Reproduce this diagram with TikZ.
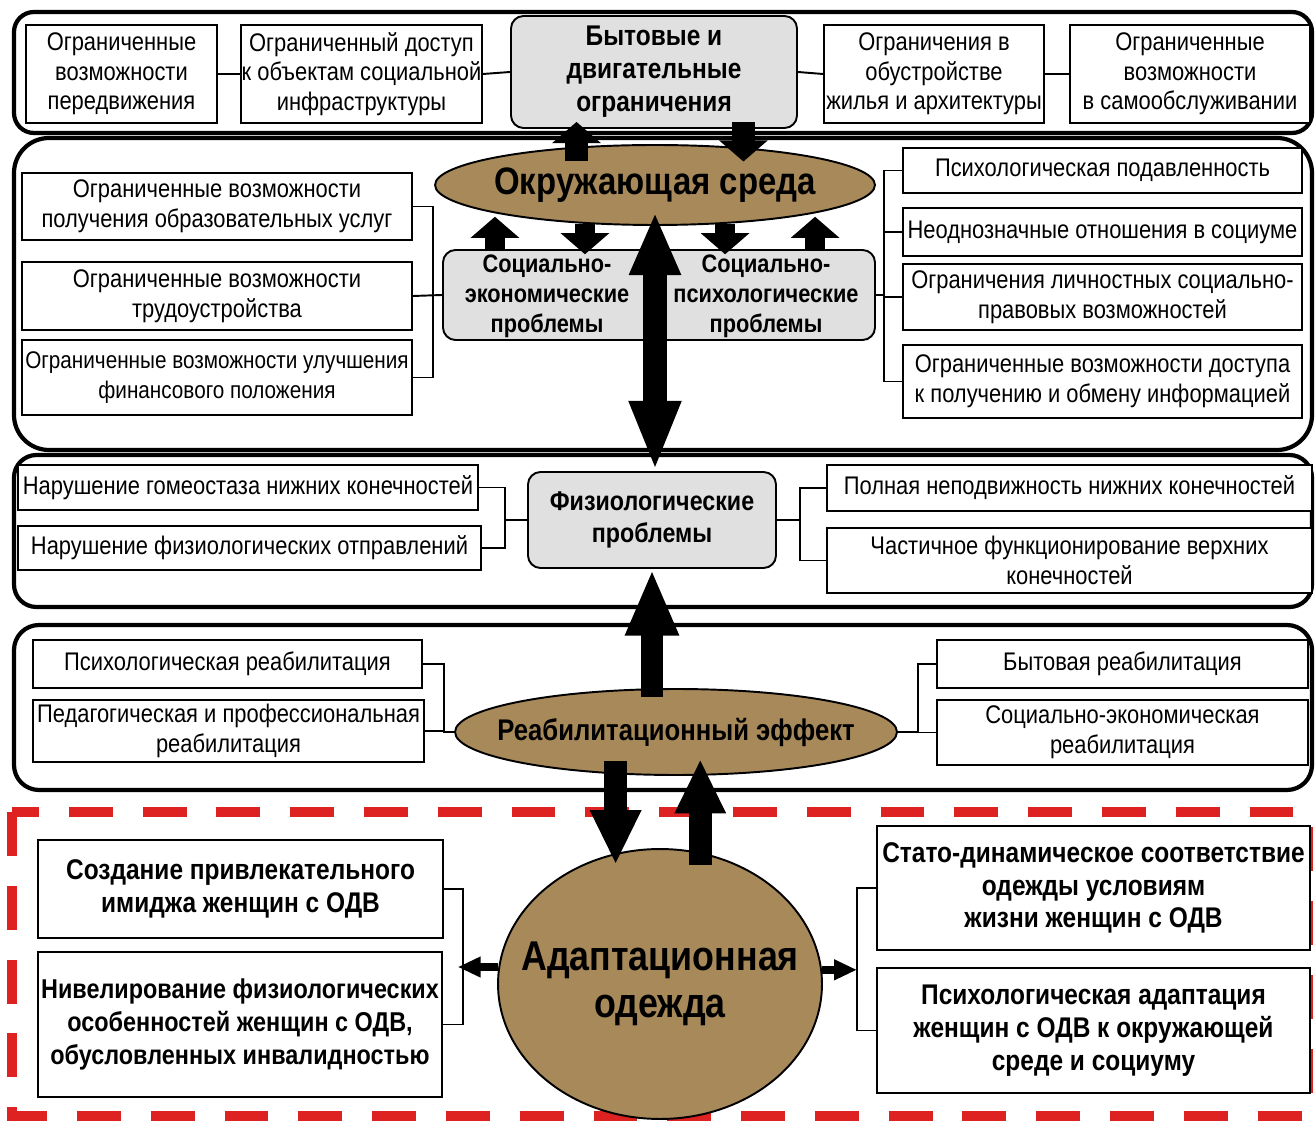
\documentclass[tikz,border=0pt]{standalone}
\usepackage{fontspec}
\setmainfont{Liberation Sans}[FakeStretch=0.86]
\usetikzlibrary{shapes.geometric,arrows.meta,calc}
\definecolor{brownfill}{RGB}{168,137,90}
\definecolor{grayfill}{RGB}{224,224,224}
\definecolor{dashred}{RGB}{222,34,34}
\newcommand{\fReg}{\fontsize{14.5}{16.8}\selectfont}
\newcommand{\fBox}{\bfseries\fontsize{16.2}{18.7}\selectfont}
\begin{document}
\begin{tikzpicture}[x=0.02cm,y=-0.02cm,
  bxat/.style n args={4}{at={({(#1+#3)/2},{(#2+#4)/2})}, minimum width={(#3-#1)*0.02cm}, minimum height={(#4-#2)*0.02cm}},
  band/.style={line width=2.4pt},
  box/.style={draw, line width=1.1pt, fill=white, inner sep=0pt, align=center, font=\fReg},
  bbox/.style={draw, line width=1.1pt, fill=white, inner sep=0pt, align=center, font=\fBox},
  gbox/.style={draw, line width=1.1pt, fill=grayfill, rounded corners=0.25cm, inner sep=0pt, align=center},
  ell/.style={draw, line width=1.1pt, fill=brownfill, ellipse, inner sep=0pt},
  conn/.style={line width=1.1pt},
  toparr/.style={line width=13pt, -{Triangle[length=12pt,width=27pt]}},
  midarr/.style={line width=11pt, -{Triangle[length=12pt,width=27pt]}},
  bigdbl/.style={line width=14pt, {Triangle[length=36pt,width=27pt]}-{Triangle[length=40pt,width=27pt]}},
  bigup/.style={line width=13pt, -{Triangle[length=38pt,width=28pt]}},
  pairarr/.style={line width=13pt, -{Triangle[length=31pt,width=27pt]}},
  harr/.style={line width=4.5pt, -{Triangle[length=13pt,width=11pt]}}
]
\useasboundingbox (0,0) rectangle (1315,1124);
\fill[white] (0,0) rectangle (1315,1124);

% bands
\draw[band, rounded corners=0.4cm] (14,12) rectangle (1312,133);
\draw[band, rounded corners=0.7cm] (14,138) rectangle (1312,450);
\draw[band, rounded corners=0.45cm] (14,455) rectangle (1312,607);
\draw[band, rounded corners=0.5cm] (14,625) rectangle (1312,790);
\draw[dashred, line width=5.5pt, dash pattern=on 25pt off 17pt] (12,812) rectangle (1308,1116);

% spine coordinates
\coordinate (sL) at (433,0);
\coordinate (sR) at (884,0);
\coordinate (sPL) at (505,0);
\coordinate (sPR) at (800,0);
\coordinate (sRL) at (444,0);
\coordinate (sRR) at (918,0);
\coordinate (sAL) at (463,0);
\coordinate (sAR) at (857,0);

% band 1
\node[box, bxat={26}{25}{217}{123}] (b1) {Ограниченные\\возможности\\передвижения};
\node[box, bxat={241}{25}{482}{123}] (b2) {Ограниченный доступ\\к объектам социальной\\инфраструктуры};
\node[gbox, bxat={511}{16}{797}{128}, font=\bfseries\fontsize{16.2}{18.7}\selectfont] (bit) {Бытовые и\\двигательные\\ограничения};
\node[box, bxat={824}{25}{1044}{123}] (b3) {Ограничения в\\обустройстве\\жилья и архитектуры};
\node[box, bxat={1070}{25}{1310}{123}] (b4) {Ограниченные\\возможности\\в самообслуживании};
\draw[conn] (b1.east) -- (b2.west);
\draw[conn] (b2.east) -- (bit.west);
\draw[conn] (bit.east) -- (b3.west);
\draw[conn] (b3.east) -- (b4.west);

% band 2
\node[ell, minimum width=8.8cm, minimum height=1.6cm] (env) at (655,185) {};
\node[font=\bfseries\fontsize{21.8}{26}\selectfont] (envT) at (env.center) {Окружающая среда};
\node[gbox, bxat={443}{250}{875}{340}] (socio) {};
\node[font=\bfseries\fontsize{14.4}{17}\selectfont, align=center] (socL) at (547,296) {Социально-\\экономические\\проблемы};
\node[font=\bfseries\fontsize{14.4}{17}\selectfont, align=center] (socR) at (766,296) {Социально-\\психологические\\проблемы};
\node[box, bxat={22}{173}{412}{240}] (L1) {Ограниченные возможности\\получения образовательных услуг};
\node[box, bxat={22}{262}{412}{330}] (L2) {Ограниченные возможности\\трудоустройства};
\node[box, bxat={22}{340}{412}{415}, font=\fontsize{13.7}{16.8}\selectfont] (L3) {Ограниченные возможности улучшения\\финансового положения};
\node[box, bxat={903}{148}{1302}{193}] (R1) {Психологическая подавленность};
\node[box, bxat={903}{208}{1302}{256}] (R2) {Неоднозначные отношения в социуме};
\node[box, bxat={903}{264}{1302}{330}] (R3) {Ограничения личностных социально-\\правовых возможностей};
\node[box, bxat={903}{345}{1302}{418}] (R4) {Ограниченные возможности доступа\\к получению и обмену информацией};
\draw[conn] (L1.east) -- (L1.east -| sL) -- (L3.east -| sL) -- (L3.east);
\draw[conn] (L2.east) -- (socio.west);
\draw[conn] (R1.west) -- (R1.west -| sR) -- (R4.west -| sR) -- (R4.west);
\draw[conn] (R2.west) -- (R2.west -| sR);
\draw[conn] (R3.west) -- (R3.west -| sR);
\draw[conn] (socio.east) -- (socio.east -| sR);

% band 3
\node[gbox, bxat={528}{472}{776}{568}, font=\bfseries\fontsize{15.4}{18}\selectfont] (phys) {Физиологические\\проблемы};
\node[box, bxat={18}{465}{478}{510}] (PL1) {Нарушение гомеостаза нижних конечностей};
\node[box, bxat={18}{526}{481}{570}] (PL2) {Нарушение физиологических отправлений};
\node[box, bxat={827}{465}{1312}{511}] (PR1) {Полная неподвижность нижних конечностей};
\node[box, bxat={827}{528}{1312}{593}] (PR2) {Частичное функционирование верхних\\конечностей};
\draw[conn] (PL1.east) -- (PL1.east -| sPL) -- (PL2.east -| sPL) -- (PL2.east);
\draw[conn] (phys.west) -- (phys.west -| sPL);
\draw[conn] (PR1.west) -- (PR1.west -| sPR) -- (PR2.west -| sPR) -- (PR2.west);
\draw[conn] (phys.east) -- (phys.east -| sPR);

% band 4
\node[ell, minimum width=8.84cm, minimum height=1.72cm] (reab) at (676,732) {};
\node[font=\bfseries\fontsize{17}{20}\selectfont] (reabT) at (reab.center) {Реабилитационный эффект};
\node[box, bxat={33}{640}{422}{688}] (RL1) {Психологическая реабилитация};
\node[box, bxat={33}{700}{424}{762}] (RL2) {Педагогическая и профессиональная\\реабилитация};
\node[box, bxat={937}{640}{1308}{688}] (RR1) {Бытовая реабилитация};
\node[box, bxat={937}{700}{1308}{765}] (RR2) {Социально-экономическая\\реабилитация};
\draw[conn] (RL1.east) -- (RL1.east -| sRL) -- (reab.west -| sRL) -- (reab.west);
\draw[conn] (RL2.east) -- (RL2.east -| sRL);
\draw[conn] (RR1.west) -- (RR1.west -| sRR) -- (reab.east -| sRR) -- (reab.east);
\draw[conn] (RR2.west) -- (RR2.west -| sRR);

% bottom
\node[ell, minimum width=6.48cm, minimum height=5.4cm] (adapt) at (660,984) {};
\node[font=\bfseries\fontsize{23.7}{26.6}\selectfont, align=center] (adaptT) at (adapt.center) {Адаптационная\\одежда};
\node[bbox, bxat={38}{840}{443}{938}] (AL1) {Создание привлекательного\\имиджа женщин с ОДВ};
\node[bbox, bxat={38}{952}{442}{1097}, font=\bfseries\fontsize{15.5}{18.7}\selectfont] (AL2) {Нивелирование физиологических\\особенностей женщин с ОДВ,\\обусловленных инвалидностью};
\node[bbox, bxat={877}{826}{1310}{950}] (AR1) {Стато-динамическое соответствие\\одежды условиям\\жизни женщин с ОДВ};
\node[bbox, bxat={877}{968}{1310}{1093}] (AR2) {Психологическая адаптация\\женщин с ОДВ к окружающей\\среде и социуму};
\draw[conn] (AL1.east) -- (AL1.east -| sAL) -- (AL2.east -| sAL) -- (AL2.east);
\draw[conn] (AR1.west) -- (AR1.west -| sAR) -- (AR2.west -| sAR) -- (AR2.west);
\draw[harr] (adapt.174) -- ([xshift=-3pt]adapt.174 -| sAL);
\draw[harr] (adapt.5) -- (adapt.5 -| sAR);

% big arrows
\draw[toparr] ([yshift=-8pt]env.154.4) -- ([yshift=4pt]env.154.4 |- bit.south);
\draw[toparr] ([yshift=4pt]env.23.5 |- bit.south) -- ([yshift=-8pt]env.23.5);
\draw[midarr] (env.190 |- socio.north) -- ([yshift=-2pt]env.190);
\draw[midarr] (env.209.6) -- ([yshift=-3pt]env.209.6 |- socio.north);
\draw[midarr] (env.331.9) -- ([yshift=-3pt]env.331.9 |- socio.north);
\draw[midarr] (env.350.5 |- socio.north) -- ([yshift=-2pt]env.350.5);
\draw[bigdbl] ([yshift=8pt]env.south) -- (env.south |- phys.north);
\draw[bigup] ([yshift=-5pt]reab.north -| phys.south) -- (phys.south);
\draw[pairarr] ([yshift=7.5pt]reab.215.6) -- ([yshift=-7pt]reab.215.6 |- adapt.107.9);
\draw[pairarr] ([yshift=-7pt]adapt.73) -- ([yshift=9.5pt]adapt.73 |- reab.299.3);
\end{tikzpicture}
\end{document}
